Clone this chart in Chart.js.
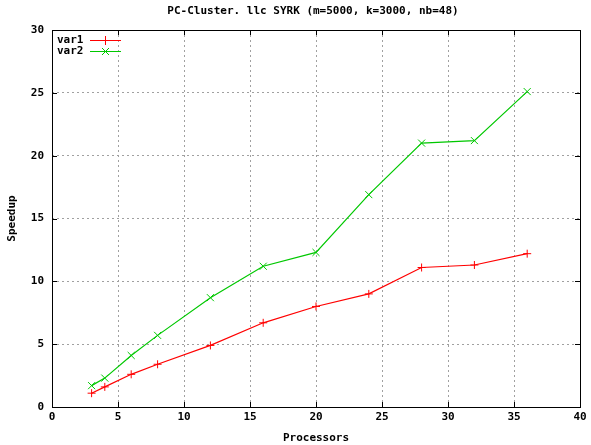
<!DOCTYPE html>
<html lang="en">
<head>
  <meta charset="UTF-8">
  <title>PC-Cluster SYRK</title>
  <style>
    body { margin: 0; background: #fff; }
    #wrap { width: 591px; height: 445px; }
  </style>
</head>
<body>

<div id="wrap">
  <canvas id="myChart" width="591" height="445"></canvas>
</div>

<script src="https://cdn.jsdelivr.net/npm/chart.js"></script>

<script>
  const processors = [3, 4, 6, 8, 12, 16, 20, 24, 28, 32, 36];
  const var1 = [1.1, 1.6, 2.6, 3.4, 4.9, 6.7, 8.0, 9.0, 11.1, 11.3, 12.2];
  const var2 = [1.7, 2.3, 4.1, 5.7, 8.7, 11.2, 12.3, 16.9, 21.0, 21.2, 25.1];
  const seriesNames = ['var1', 'var2'];

  const font = { family: 'DejaVu Sans Mono', size: 11, weight: 'bold' };

  function toPoints(ys) {
    return processors.map((p, i) => ({ x: p, y: ys[i] }));
  }

  // frame, inward ticks, title and legend drawn the gnuplot way
  const gnuplotBits = {
    id: 'gnuplotBits',
    afterDraw(chart) {
      const c = chart.ctx;
      const a = chart.chartArea;
      const xs = chart.scales.x, ys = chart.scales.y;
      c.save();
      c.strokeStyle = '#000';
      c.lineWidth = 1;
      c.strokeRect(Math.round(a.left) + 0.5, Math.round(a.top) + 0.5,
                   Math.round(a.right - a.left), Math.round(a.bottom - a.top));
      c.beginPath();
      xs.ticks.forEach(t => {
        const px = Math.round(xs.getPixelForValue(t.value)) + 0.5;
        c.moveTo(px, a.bottom); c.lineTo(px, a.bottom - 5);
        c.moveTo(px, a.top); c.lineTo(px, a.top + 5);
      });
      ys.ticks.forEach(t => {
        const py = Math.round(ys.getPixelForValue(t.value)) + 0.5;
        c.moveTo(a.left, py); c.lineTo(a.left + 5, py);
        c.moveTo(a.right, py); c.lineTo(a.right - 5, py);
      });
      c.stroke();

      c.font = 'bold 11px "DejaVu Sans Mono"';
      c.fillStyle = '#000';
      c.textAlign = 'center';
      c.textBaseline = 'middle';
      c.fillText('PC-Cluster. llc SYRK (m=5000, k=3000, nb=48)', 313, 11);

      // legend
      chart.data.datasets.forEach((ds, i) => {
        const y = 40 + i * 11;
        c.textAlign = 'left';
        c.fillStyle = '#000';
        c.fillText(ds.label, 57, y);
        c.strokeStyle = ds.borderColor;
        c.beginPath();
        c.moveTo(90, y + 0.5); c.lineTo(121, y + 0.5);
        c.stroke();
        c.beginPath();
        if (ds.pointStyle === 'cross') {
          c.moveTo(105.5, y - 4); c.lineTo(105.5, y + 5);
          c.moveTo(101, y + 0.5); c.lineTo(110, y + 0.5);
        } else {
          c.moveTo(102, y - 3); c.lineTo(109, y + 4);
          c.moveTo(109, y - 3); c.lineTo(102, y + 4);
        }
        c.stroke();
      });
      c.restore();
    }
  };

  const ctx = document.getElementById('myChart').getContext('2d');
  const myChart = new Chart(ctx, {
    type: 'line',
    data: {
      datasets: [{
        label: seriesNames[0],
        data: toPoints(var1),
        borderColor: '#ff0000',
        backgroundColor: '#ff0000',
        borderWidth: 1.2,
        pointStyle: 'cross',
        pointRadius: 4,
        pointBorderWidth: 1,
        tension: 0
      }, {
        label: seriesNames[1],
        data: toPoints(var2),
        borderColor: '#00c800',
        backgroundColor: '#00c800',
        borderWidth: 1.2,
        pointStyle: 'crossRot',
        pointRadius: 5,
        pointBorderWidth: 1,
        tension: 0
      }]
    },
    options: {
      responsive: false,
      animation: false,
      layout: { padding: { top: 30, right: 11, left: 0, bottom: 0 } },
      plugins: { legend: { display: false }, title: { display: false }, tooltip: { enabled: false } },
      scales: {
        x: {
          type: 'linear', min: 0, max: 40,
          ticks: { stepSize: 5, color: '#000', font: font, padding: 4, maxRotation: 0 },
          grid: { color: '#a0a0a0', drawTicks: false },
          border: { display: false, dash: [2, 3] },
          title: { display: true, text: 'Processors', color: '#000', font: font, padding: { top: 6, bottom: 0 } },
          afterFit(s) { s.height = 38; }
        },
        y: {
          min: 0, max: 30,
          ticks: { stepSize: 5, color: '#000', font: font, padding: 8 },
          grid: { color: '#a0a0a0', drawTicks: false },
          border: { display: false, dash: [2, 3] },
          title: { display: true, text: 'Speedup', color: '#000', font: font, padding: { top: 6, bottom: 0 } },
          afterFit(s) { s.width = 52; }
        }
      }
    },
    plugins: [gnuplotBits]
  });
</script>
</body>
</html>
